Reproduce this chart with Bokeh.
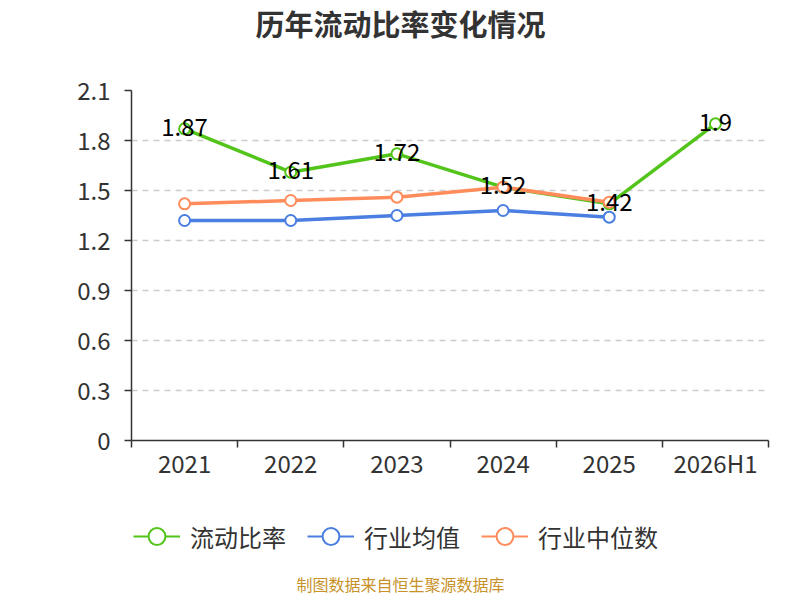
from bokeh.plotting import figure
from bokeh.models import (Range1d, FixedTicker, Legend, LegendItem, Label,
                          ColumnDataSource, CustomJSTickFormatter)
from bokeh.layouts import column
from bokeh.core.properties import value
from bokeh.embed import file_html
from bokeh.resources import INLINE

years = ["2021", "2022", "2023", "2024", "2025", "2026H1"]
ratio = [1.87, 1.61, 1.72, 1.52, 1.42, 1.9]
ind_mean = [1.32, 1.32, 1.35, 1.38, 1.34]
ind_median = [1.42, 1.44, 1.46, 1.52, 1.43]
y_ticks = [0, 0.3, 0.6, 0.9, 1.2, 1.5, 1.8, 2.1]
series_names = ["流动比率", "行业均值", "行业中位数"]
title_text = "历年流动比率变化情况"
source_text = "制图数据来自恒生聚源数据库"

FONT = "Noto Sans CJK SC"
GREEN = "#52c41a"
BLUE = "#4a7ee0"
ORANGE = "#ff8c5a"
COLORS = [GREEN, BLUE, ORANGE]
W = 792
LEFT, RIGHT = 131, 24

xs = [i + 0.5 for i in range(len(years))]

def strip(h):
    f = figure(width=W, height=h, output_backend="svg", toolbar_location=None,
               x_axis_type=None, y_axis_type=None, x_range=Range1d(0, 1),
               y_range=Range1d(0, 1), min_border_left=LEFT, min_border_right=RIGHT,
               min_border_top=0, min_border_bottom=0)
    f.outline_line_color = None
    f.grid.grid_line_color = None
    return f

# ---- title strip (frame starts at x=131 because the column aligns frames)
top = strip(45)
top.add_layout(Label(x=400 - LEFT, y=23, x_units="screen", y_units="screen", text=title_text,
                     text_align="center", text_baseline="middle", text_font=FONT,
                     text_font_size="29px", text_font_style="bold", text_color="#333333"))

# ---- main chart
p = figure(frame_width=637, frame_height=350, output_backend="svg", toolbar_location=None,
           x_range=Range1d(0, len(years)), y_range=Range1d(0, 2.1),
           min_border_left=LEFT, min_border_right=RIGHT, min_border_top=45,
           min_border_bottom=55)
p.outline_line_color = None
p.background_fill_color = "white"

p.xaxis.ticker = FixedTicker(ticks=xs, minor_ticks=list(range(len(years) + 1)))
p.xaxis.formatter = CustomJSTickFormatter(args=dict(labels=years),
    code="return labels[Math.round(tick - 0.5)];")
p.xaxis.major_tick_line_color = None
p.xaxis.major_tick_out = 0
p.xaxis.major_tick_in = 0
p.xaxis.minor_tick_in = 0
p.xaxis.minor_tick_out = 7
p.xaxis.minor_tick_line_color = "#333333"
p.xaxis.axis_line_color = "#333333"
p.xaxis.axis_line_width = 1.5
p.xaxis.minor_tick_line_width = 1.5
p.xaxis.major_label_text_font = FONT
p.xaxis.major_label_text_font_size = "24px"
p.xaxis.major_label_text_color = "#333333"
p.xaxis.major_label_standoff = -3

p.yaxis.ticker = FixedTicker(ticks=y_ticks)
p.yaxis.formatter = CustomJSTickFormatter(code="return (Math.round(tick*10)/10).toString();")
p.yaxis.major_tick_in = 0
p.yaxis.major_tick_out = 7
p.yaxis.minor_tick_line_color = None
p.yaxis.axis_line_color = "#333333"
p.yaxis.axis_line_width = 1.5
p.yaxis.major_tick_line_width = 1.5
p.yaxis.major_tick_line_color = "#333333"
p.yaxis.major_label_text_font = FONT
p.yaxis.major_label_text_font_size = "24px"
p.yaxis.major_label_text_color = "#333333"
p.yaxis.major_label_standoff = 14

p.xgrid.grid_line_color = None
p.ygrid.grid_line_color = "#cccccc"
p.ygrid.grid_line_dash = "6 5"
p.ygrid.grid_line_width = 1.5

for vals, color in zip([ratio, ind_mean, ind_median], COLORS):
    src = ColumnDataSource(dict(x=xs[:len(vals)], y=vals))
    p.line("x", "y", source=src, line_color=color, line_width=3.5)
    p.scatter("x", "y", source=src, size=11, marker="circle",
              fill_color="white", line_color=color, line_width=2)

lbl = ColumnDataSource(dict(x=xs, y=ratio, t=[str(v) for v in ratio]))
p.text("x", "y", text="t", source=lbl, text_align="center", text_baseline="middle",
       y_offset=-2, text_font=value(FONT), text_font_size="24px", text_color="#000000")

# ---- legend + source strip
bot = strip(100)
items = []
for name, color in zip(series_names, COLORS):
    # off-range placeholder point: only used for the legend swatch
    hidden = ColumnDataSource(dict(x=[-5], y=[-5]))
    l = bot.line("x", "y", source=hidden, line_color=color, line_width=2)
    s = bot.scatter("x", "y", source=hidden, marker="circle", fill_color="white",
                    line_color=color, line_width=2)
    items.append(LegendItem(label=name, renderers=[l, s]))
legend = Legend(items=items, orientation="horizontal", location=(2, 38),
                glyph_width=47, glyph_height=42, label_text_font=FONT,
                label_text_font_size="24px", label_text_color="#333333",
                label_standoff=10, spacing=21, border_line_color=None,
                background_fill_alpha=0, margin=0, padding=0)
bot.add_layout(legend, "center")
bot.add_layout(Label(x=400 - LEFT, y=12, x_units="screen", y_units="screen", text=source_text,
                     text_align="center", text_baseline="middle", text_font=FONT,
                     text_font_size="16px", text_color="#c8922a"))

layout = column(top, p, bot, spacing=0)
open("out.html", "w").write(file_html(layout, INLINE))
